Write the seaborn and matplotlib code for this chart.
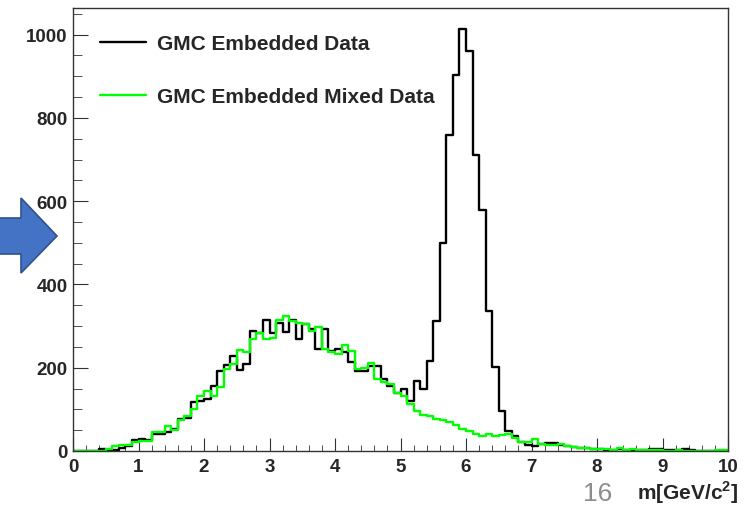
import numpy as np
import pandas as pd
import matplotlib
matplotlib.use("Agg")
import matplotlib.pyplot as plt
from matplotlib.lines import Line2D
from matplotlib.patches import Polygon
from matplotlib.ticker import MultipleLocator
import seaborn as sns

# histogram binning: 100 bins of 0.1 GeV/c^2 from 0 to 10
bin_centers = np.round(np.arange(100) * 0.1 + 0.05, 2)

# GMC Embedded Data (black)
embedded = [
    0, 0, 0, 0, 5, 0, 2, 8, 12, 27,
    28, 26, 42, 42, 46, 54, 77, 80, 117, 121,
    125, 157, 193, 206, 227, 194, 209, 288, 284, 315,
    284, 308, 286, 315, 268, 305, 294, 246, 292, 241,
    245, 237, 214, 193, 193, 205, 205, 173, 157, 139,
    150, 121, 169, 149, 217, 312, 499, 758, 902, 1014,
    960, 712, 579, 336, 202, 97, 49, 37, 22, 15,
    13, 16, 20, 19, 14, 12, 10, 8, 7, 5,
    4, 3, 2, 4, 3, 2, 2, 3, 5, 4,
    2, 2, 3, 4, 2, 1, 1, 0, 1, 0,
]

# GMC Embedded Mixed Data (green)
mixed = [
    0, 0, 0, 0, 0, 4, 12, 14, 14, 22,
    25, 25, 46, 46, 59, 50, 75, 85, 101, 133,
    145, 131, 153, 197, 209, 243, 237, 268, 284, 270,
    272, 315, 324, 313, 308, 306, 288, 297, 246, 237,
    233, 254, 240, 197, 200, 211, 172, 165, 161, 139,
    133, 113, 97, 86, 85, 77, 75, 70, 62, 54,
    49, 41, 37, 41, 37, 38, 41, 31, 22, 22,
    30, 18, 15, 15, 17, 12, 10, 8, 8, 6,
    5, 4, 3, 8, 2, 5, 3, 2, 2, 2,
    1, 1, 2, 1, 1, 1, 0, 1, 2, 2,
]

labels = ["GMC Embedded Data", "GMC Embedded Mixed Data"]
colors = ["black", "#00ff00"]

sns.set_style("ticks")
plt.rcParams["font.family"] = ["Liberation Sans", "DejaVu Sans"]
plt.rcParams["mathtext.fontset"] = "custom"
plt.rcParams["mathtext.bf"] = "Liberation Sans:bold"
plt.rcParams["mathtext.rm"] = "Liberation Sans:bold"

fig = plt.figure(figsize=(7.56, 5.06), dpi=100)
W, H = 756, 506
ax = fig.add_axes([73 / W, 1 - 452 / H, (728 - 73) / W, (452 - 9) / H])

for vals, col in zip([embedded, mixed], colors):
    df = pd.DataFrame({"m": bin_centers, "n": vals})
    sns.histplot(data=df, x="m", weights="n", bins=100, binrange=(0, 10),
                 element="step", fill=False, color=col, linewidth=1.7, ax=ax)

ax.set_xlim(0, 10)
ax.set_ylim(0, 1064)
ax.set_ylabel("")
ax.set_xlabel("")

# ROOT-like axis style
for sp in ax.spines.values():
    sp.set_color("#333333")
    sp.set_linewidth(1.0)
ax.xaxis.set_major_locator(MultipleLocator(1))
ax.xaxis.set_minor_locator(MultipleLocator(0.2))
ax.yaxis.set_major_locator(MultipleLocator(200))
ax.yaxis.set_minor_locator(MultipleLocator(50))
ax.tick_params(which="both", direction="in", top=False, right=False, color="#333333")
ax.tick_params(axis="x", which="major", length=9.5, pad=5)
ax.tick_params(axis="x", which="minor", length=4.5)
ax.tick_params(axis="y", which="major", length=11, pad=4)
ax.tick_params(axis="y", which="minor", length=6.5)
for lab in ax.get_xticklabels() + ax.get_yticklabels():
    lab.set_fontweight("bold")
    lab.set_fontsize(13.5)

# legend
handles = [Line2D([], [], color=c, lw=1.7) for c in colors]
ax.legend(handles, labels, loc="upper left", bbox_to_anchor=(100 / W, 1 - 35 / H),
          bbox_transform=fig.transFigure, frameon=False, borderpad=0, borderaxespad=0,
          handlelength=2.2, handletextpad=0.53, labelspacing=1.65,
          prop={"weight": "bold", "size": 15})

# axis title at the bottom right
fig.text(739 / W, 1 - 493 / H, r"m[GeV/c$^{2}$]", ha="right", va="center",
         fontsize=15, fontweight="bold")

# slide number and arrow from the slide
fig.text(598 / W, 1 - 494 / H, "16", ha="center", va="center",
         fontsize=19, color="#8c8c8c")
arrow_px = [(-2, 219), (21, 219), (21, 199), (57, 237), (21, 274), (21, 255), (-2, 255)]
arrow = Polygon([(x / W, 1 - y / H) for x, y in arrow_px], closed=True,
                transform=fig.transFigure, facecolor="#4472c4", edgecolor="#2f528f",
                linewidth=1.2)
fig.patches.append(arrow)

fig.savefig("out.png", dpi=100)
